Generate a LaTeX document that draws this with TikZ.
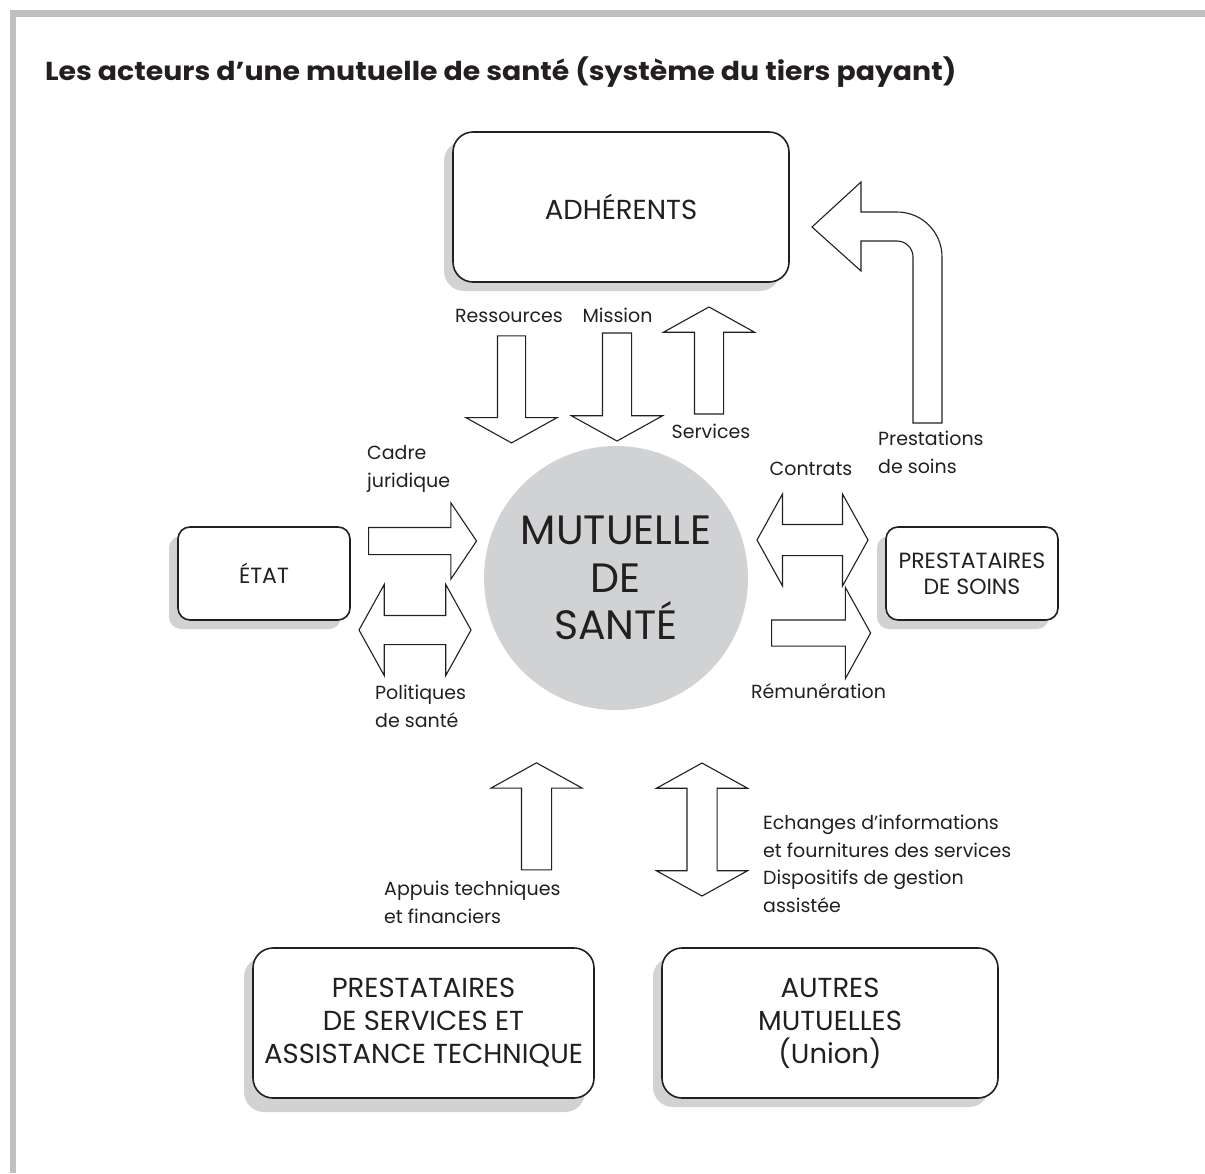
\documentclass[tikz,border=0pt]{standalone}
\usepackage{fontspec}
\setmainfont{Poppins}
\newfontfamily\titlefont{Poppins}[FakeStretch=1.09]
\usetikzlibrary{
    shapes.arrows,
    shadows,
    positioning
}
\definecolor{framegray}{RGB}{190,191,193}
\definecolor{shadegray}{RGB}{209,210,212}
\definecolor{inkblack}{RGB}{35,31,32}
\tikzstyle{actor} = [
    rectangle,
    rounded corners=20pt,
    draw=inkblack,
    line width=1.6pt,
    fill=white,
    align=center,
    text=inkblack,
    minimum width=336pt,
    minimum height=150pt,
    font=\fontsize{27.5}{33}\selectfont,
    drop shadow={shadow xshift=-9pt, shadow yshift=-9pt, fill=shadegray, opacity=1}
]
\tikzstyle{smallactor} = [
    actor,
    rounded corners=12pt,
    minimum width=172pt,
    minimum height=93pt,
    font=\fontsize{22}{26}\selectfont
]
\tikzstyle{flow} = [
    single arrow,
    draw=inkblack,
    line width=1.1pt,
    fill=white,
    inner xsep=0pt,
    inner ysep=14pt,
    minimum width=0pt,
    single arrow head extend=31pt,
    single arrow tip angle=122
]
\tikzstyle{duoflow} = [
    double arrow,
    draw=inkblack,
    line width=1.1pt,
    fill=white,
    inner xsep=0pt,
    inner ysep=14pt,
    minimum width=0pt,
    double arrow head extend=31pt,
    double arrow tip angle=122
]
\tikzstyle{lbl} = [
    inner sep=0pt,
    align=left,
    text=inkblack,
    font=\fontsize{19}{27.5}\selectfont
]

\begin{document}
\begin{tikzpicture}[x=1pt, y=-1pt]
    \useasboundingbox (0,0) rectangle (1205,1173);
    % Frame
    \fill[framegray] (10,10) rectangle (1205,17);
    \fill[framegray] (10,10) rectangle (16,1173);

    \node[anchor=base west, inner sep=0pt, text=inkblack, font=\titlefont\bfseries\fontsize{26}{30}\selectfont] (title) at (45,80)
        {Les acteurs d’une mutuelle de santé (système du tiers payant)};

    % Actors
    \node[circle, fill=shadegray, minimum size=264pt, inner sep=0pt, align=center, text=inkblack,
        font=\fontsize{41}{47.5}\selectfont] (mut) at (616,578) {MUTUELLE\\DE\\SANTÉ};
    \node[actor] (adh) at (621,207) {ADHÉRENTS};
    \node[smallactor] (etat) at (264,573.5) {ÉTAT};
    \node[smallactor] (soins) at (972,573.5) {PRESTATAIRES\\DE SOINS};
    \node[actor, minimum width=341pt,
        drop shadow={shadow xshift=-9pt, shadow yshift=-14pt, fill=shadegray, opacity=1}] (pss) at (423.5,1023)
        {PRESTATAIRES\\DE SERVICES ET\\ASSISTANCE TECHNIQUE};
    \node[actor] (autres) at (830,1023) {AUTRES\\MUTUELLES\\(Union)};

    % Block arrows
    \node[flow, rotate=-90, minimum height=107pt, inner ysep=13.5pt, single arrow head extend=31.5pt] (ress) at (511.5,385.5) {};
    \node[flow, rotate=-90, minimum height=108pt] (mis) at (617,383) {};
    \node[flow, rotate=90, minimum height=107pt] (serv) at (709,364.5) {};
    \node[flow, minimum height=108pt, inner ysep=13pt, single arrow head extend=24.5pt,
        single arrow tip angle=112] (cadre) at (418,541) {};
    \node[duoflow, minimum height=112pt] (pol) at (415,630) {};
    \node[duoflow, minimum height=111pt, inner ysep=15pt, double arrow head extend=30.5pt] (contr) at (812.5,540) {};
    \node[flow, minimum height=99pt, inner ysep=12.5pt, single arrow head extend=32.5pt] (remu) at (817.5,633) {};
    \node[flow, rotate=90, minimum height=107pt, inner ysep=14.5pt, single arrow head extend=30.5pt] (appui) at (536.5,820.5) {};
    \node[duoflow, rotate=90, minimum height=133pt, inner ysep=14.5pt, double arrow head extend=30.5pt] (ech) at (702,829.5) {};

    % Bent arrow back to the members
    \draw[draw=inkblack, line width=1.1pt, fill=white]
        (942,423) -- (942,257) .. controls (942,232.1) and (922.1,212) .. (897,212)
        -- (861,212) -- (861,182) -- (812,227) -- (861,271) -- (861,241) -- (897,241)
        .. controls (905.8,241) and (913,248.2) .. (913,257) -- (913,423) -- cycle;

    % Labels
    \node[lbl, anchor=base] (lress) at (509,322) {Ressources};
    \node[lbl, anchor=base] (lmis) at (617.5,322) {Mission};
    \node[lbl, anchor=base] (lserv) at (711,438) {Services};
    \node[lbl, anchor=base west] (lcadre) at (367,487) {Cadre\\juridique};
    \node[lbl, anchor=base west] (lpol) at (375,727) {Politiques\\de santé};
    \node[lbl, anchor=base] (lcontr) at (811,475) {Contrats};
    \node[lbl, anchor=base west] (lprest) at (878,473) {Prestations\\de soins};
    \node[lbl, anchor=base] (lremu) at (818.5,698) {Rémunération};
    \node[lbl, anchor=base west] (lappui) at (384,923) {Appuis techniques\\et financiers};
    \node[lbl, anchor=base west] (lech) at (763,912)
        {Echanges d’informations\\et fournitures des services\\Dispositifs de gestion\\assistée};
\end{tikzpicture}
\end{document}
